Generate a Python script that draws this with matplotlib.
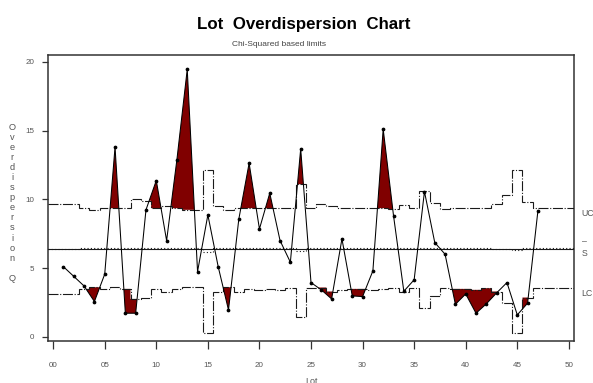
import numpy as np
import matplotlib
matplotlib.use("Agg")
import matplotlib.pyplot as plt
from matplotlib import font_manager

# lots with a measured Q value
lots = np.arange(1, 48)
overdispersion = [5.1, 4.4, 3.7, 2.57, 4.56, 13.8, 1.72, 1.72, 9.24, 11.37,
                  7.0, 12.9, 19.45, 4.75, 8.87, 5.11, 1.96, 8.56, 12.63, 7.85,
                  10.45, 7.0, 5.43, 13.67, 3.95, 3.42, 2.76, 7.13, 2.98, 2.93,
                  4.8, 15.1, 8.82, 3.32, 4.15, 10.57, 6.86, 6.01, 2.37, 3.12,
                  1.72, 2.4, 3.2, 3.95, 1.6, 2.45, 9.16]

# limits are given for every lot position 0..50
limit_lots = np.arange(0, 51)
ucl = [9.67, 9.67, 9.67, 9.36, 9.24, 9.36, 9.36, 9.36, 10.0, 9.9,
       9.36, 9.55, 9.36, 9.24, 9.24, 12.15, 9.55, 9.24, 9.36, 9.36,
       9.36, 9.36, 9.36, 9.36, 11.1, 9.36, 9.65, 9.5, 9.36, 9.36,
       9.36, 9.36, 9.36, 9.3, 9.58, 9.36, 10.64, 9.77, 9.28, 9.36,
       9.36, 9.36, 9.36, 9.65, 10.33, 12.15, 9.84, 9.36, 9.36, 9.36, 9.36]
lcl = [3.1, 3.1, 3.1, 3.49, 3.61, 3.49, 3.61, 3.49, 2.76, 2.86,
       3.49, 3.25, 3.49, 3.61, 3.61, 0.27, 3.25, 3.61, 3.3, 3.49,
       3.4, 3.49, 3.4, 3.54, 1.48, 3.54, 3.59, 3.3, 3.42, 3.49,
       3.49, 3.42, 3.49, 3.59, 3.3, 3.54, 2.09, 3.0, 3.54, 3.49,
       3.49, 3.42, 3.54, 3.3, 2.45, 0.27, 2.86, 3.54, 3.54, 3.54, 3.54]
center = [6.4, 6.4, 6.4, 6.45, 6.45, 6.45, 6.45, 6.45, 6.45, 6.45,
          6.45, 6.45, 6.45, 6.45, 6.45, 6.2, 6.45, 6.45, 6.45, 6.45,
          6.45, 6.45, 6.45, 6.45, 6.28, 6.45, 6.45, 6.45, 6.45, 6.45,
          6.45, 6.45, 6.45, 6.45, 6.45, 6.45, 6.45, 6.45, 6.45, 6.45,
          6.45, 6.45, 6.45, 6.38, 6.38, 6.3, 6.45, 6.45, 6.45, 6.45, 6.45]
s_bar = 6.4

x_ticks = list(range(0, 51, 5))
x_tick_labels = ["%02d" % v for v in x_ticks]
y_ticks = [0, 5, 10, 15, 20]

title = "Lot  Overdispersion  Chart"
subtitle = "Chi-Squared based limits"

installed = {f.name for f in font_manager.fontManager.ttflist}
if "Liberation Sans Narrow" in installed:
    title_family, title_size = "Liberation Sans Narrow", 14.8
else:
    title_family, title_size = "Liberation Sans", 12.2

plt.rcParams["font.family"] = ["Liberation Sans", "DejaVu Sans"]

W, H = 593, 383
fig = plt.figure(figsize=(W / 100, H / 100), dpi=100)
ax = fig.add_axes([48 / W, 1 - 341 / H, (574 - 48) / W, (341 - 55) / H])

fill_col = "#800000"
grey = "#555555"

# fills between the data line and the step limits
q = np.array(overdispersion)
ucl_a = np.array(ucl)
lcl_a = np.array(lcl)
xs = np.linspace(lots[0], lots[-1], 9201)
ys = np.interp(xs, lots, q)
idx = np.floor(xs + 0.5).astype(int)
ax.fill_between(xs, ys, ucl_a[idx], where=ys > ucl_a[idx], interpolate=True,
                color=fill_col, lw=0, zorder=2)
ax.fill_between(xs, ys, lcl_a[idx], where=ys < lcl_a[idx], interpolate=True,
                color=fill_col, lw=0, zorder=2)

edges = np.arange(limit_lots[0] - 0.5, limit_lots[-1] + 1.0, 1.0)
ax.stairs(ucl, edges, baseline=None, color="#1a1a1a", lw=0.8,
          linestyle=(0, (9, 1.5, 1, 1.5)), zorder=3)
ax.stairs(lcl, edges, baseline=None, color="#1a1a1a", lw=0.8,
          linestyle=(0, (9, 1.5, 1, 1.5)), zorder=3)
ax.axhline(s_bar, color="#1a1a1a", lw=0.8, zorder=3)
ax.stairs(center, edges, baseline=None, color="#1a1a1a", lw=0.8,
          linestyle=(0, (1, 2)), zorder=3)

ax.plot(lots, q, color="black", lw=0.75, marker="o", ms=1.7, zorder=4)

ax.set_xlim(-0.5, 50.5)
ax.set_ylim(-0.3, 20.5)
ax.set_xticks(x_ticks)
ax.set_xticklabels(x_tick_labels)
ax.set_yticks(y_ticks)
ax.tick_params(axis="x", length=6, width=0.9, pad=9, labelsize=5.8,
               labelcolor=grey, color="#333333")
ax.tick_params(axis="y", length=4, width=0.9, pad=6, labelsize=5.8,
               labelcolor=grey, color="#333333")
for sp in ax.spines.values():
    sp.set_color("#333333")
    sp.set_linewidth(1.1)

fig.text(304 / W, 1 - 28.5 / H, title, ha="center", va="baseline",
         family=title_family, fontsize=title_size, fontweight="bold", color="black")
fig.text(279.5 / W, 1 - 45.5 / H, subtitle, ha="center", va="baseline",
         fontsize=6.0, color="#444444")

fig.text(12 / W, 1 - 123 / H, "\n".join("Overdispersion Q"), ha="center", va="top",
         multialignment="center", fontsize=6.7, color=grey, linespacing=1.15)
fig.text(311 / W, 1 - 377 / H, "Lot", ha="center", va="top", fontsize=6.5, color=grey)

fig.text(581 / W, 1 - 214 / H, "UCL", ha="left", va="center", fontsize=6.3, color=grey)
fig.text(581.5 / W, 1 - 242 / H, "\u2013", ha="left", va="center", fontsize=6.3, color=grey)
fig.text(581.5 / W, 1 - 253 / H, "S", ha="left", va="center", fontsize=6.3, color=grey)
fig.text(581 / W, 1 - 294 / H, "LCL", ha="left", va="center", fontsize=6.3, color=grey)

fig.savefig("out.png", dpi=100)
